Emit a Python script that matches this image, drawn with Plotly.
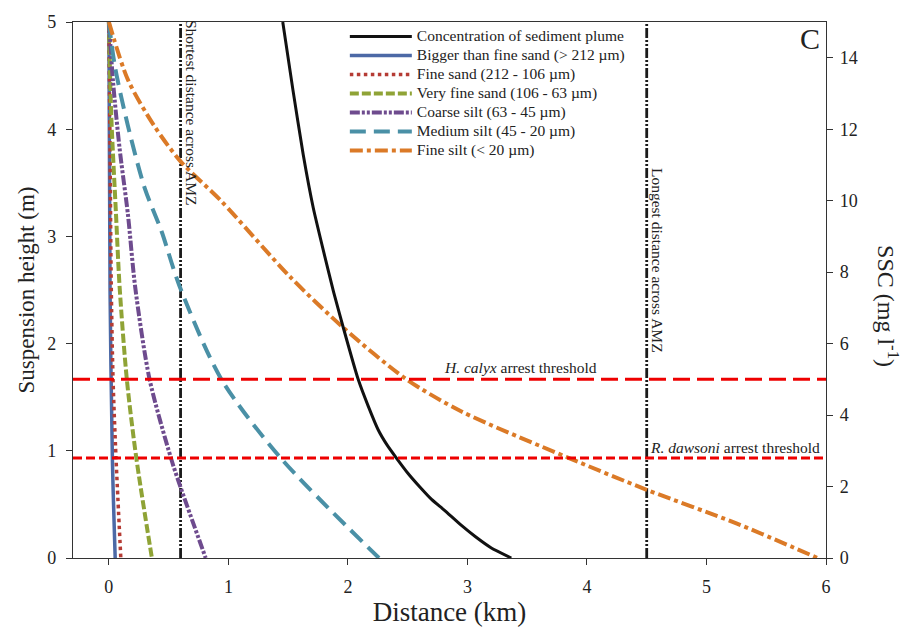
import plotly.graph_objects as go

# ---------------- data ----------------
# Concentration of sediment plume (distance km, SSC mg/l) -> right axis
plume_x = [1.455, 1.54, 1.626, 1.71, 1.80, 1.88, 1.957, 2.086, 2.17, 2.253,
           2.33, 2.403, 2.50, 2.604, 2.70, 2.806, 2.95, 3.065, 3.20, 3.367]
plume_ssc = [15.0, 13.1, 11.29, 9.8, 8.53, 7.45, 6.50, 5.00, 4.25, 3.59,
             3.15, 2.81, 2.38, 1.98, 1.64, 1.34, 0.91, 0.60, 0.28, 0.0]

# Grain-size fractions: distance (km) vs suspension height (m)
coarse_x = [0.0, 0.01, 0.03, 0.053]
coarse_h = [5.0, 2.5, 0.9, 0.0]

finesand_x = [0.0, 0.01, 0.02, 0.035, 0.06, 0.10]
finesand_h = [5.0, 3.8, 2.54, 1.67, 0.93, 0.0]

vfsand_x = [0.0, 0.02, 0.06, 0.09, 0.15, 0.23, 0.36]
vfsand_h = [5.0, 4.13, 3.2, 2.53, 1.67, 0.93, 0.0]

csilt_x = [0.0, 0.036, 0.09, 0.16, 0.22, 0.34, 0.52, 0.60, 0.81]
csilt_h = [5.0, 4.43, 3.82, 3.2, 2.53, 1.67, 0.93, 0.66, 0.0]

msilt_x = [0.0, 0.05, 0.16, 0.30, 0.44, 0.59, 0.94, 1.44, 2.26]
msilt_h = [5.0, 4.59, 4.03, 3.45, 3.05, 2.54, 1.67, 0.93, 0.0]

fsilt_x = [0.0, 0.16, 0.38, 0.60, 0.94, 1.51, 1.97, 2.49, 2.95, 3.84, 4.50, 5.25, 5.93]
fsilt_h = [5.0, 4.46, 4.03, 3.70, 3.33, 2.63, 2.14, 1.667, 1.367, 0.937, 0.636, 0.323, 0.0]

amz_distances = [0.6, 4.5]          # shortest / longest distance across AMZ (km)
amz_labels = ["Shortest distance across AMZ", "Longest distance across AMZ"]
thresholds_ssc = [5.0, 2.8]         # H. calyx, R. dawsoni (mg/l)
threshold_labels = ["<i>H. calyx</i> arrest threshold", "<i>R. dawsoni</i> arrest threshold"]

height_range = [0, 5]
ssc_range = [0, 15]
dist_range = [-0.3, 6]

FONT = "Liberation Serif, Times New Roman, serif"
LEG = '<span style="font-size:15.5px">{}</span>'

fig = go.Figure()

series = [
    ("Bigger than fine sand (> 212 µm)", coarse_x, coarse_h, "#4C69A6", "solid", 3.5),
    ("Fine sand (212 - 106 µm)", finesand_x, finesand_h, "#B53B34", "dot", 3.5),
    ("Very fine sand (106 - 63 µm)", vfsand_x, vfsand_h, "#8FA336", "9px,3px", 4),
    ("Coarse silt (63 - 45 µm)", csilt_x, csilt_h, "#6E4B8E", "10px,2px,3px,2px,3px,2px", 4),
    ("Medium silt (45 - 20 µm)", msilt_x, msilt_h, "#4A90A6", "16px,8px", 4),
    ("Fine silt (< 20 µm)", fsilt_x, fsilt_h, "#DB7A27", "13px,4px,4px,4px", 4),
]

# vertical AMZ lines
for d in amz_distances:
    fig.add_trace(go.Scatter(x=[d, d], y=height_range, mode="lines",
                             line=dict(color="#1a1a1a", width=2.8, dash="10px,2px,2px,2px,2px,2px"),
                             showlegend=False, hoverinfo="skip"))

for i, (name, xs, hs, col, dash, w) in enumerate(series):
    fig.add_trace(go.Scatter(x=xs, y=hs, mode="lines", name=LEG.format(name),
                             line=dict(color=col, width=w, dash=dash, shape="spline", smoothing=0.8),
                             legendrank=10 + i))

fig.add_trace(go.Scatter(x=plume_x, y=plume_ssc, mode="lines",
                         name=LEG.format("Concentration of sediment plume"),
                         line=dict(color="#111111", width=3, shape="spline", smoothing=0.5),
                         yaxis="y2", legendrank=1))

# threshold lines (right axis)
th_dash = ["17px,7px", "9px,4px"]
for t, dsh in zip(thresholds_ssc, th_dash):
    fig.add_trace(go.Scatter(x=dist_range, y=[t, t], mode="lines", yaxis="y2",
                             line=dict(color="#EE0000", width=3, dash=dsh),
                             showlegend=False, hoverinfo="skip"))

ann = []
ann.append(dict(x=amz_distances[0], y=height_range[1], xref="x", yref="y", text=amz_labels[0],
                textangle=90, xanchor="left", yanchor="top", xshift=1, yshift=4,
                showarrow=False, font=dict(family=FONT, size=15.5, color="#222")))
ann.append(dict(x=amz_distances[1], y=3.66, xref="x", yref="y", text=amz_labels[1],
                textangle=90, xanchor="left", yanchor="top", xshift=1,
                showarrow=False, font=dict(family=FONT, size=15.5, color="#222")))
ann.append(dict(x=3.44, y=thresholds_ssc[0], xref="x", yref="y2", text=threshold_labels[0],
                xanchor="center", yanchor="bottom", yshift=1,
                showarrow=False, font=dict(family=FONT, size=15.5, color="#222")))
ann.append(dict(x=amz_distances[1], y=thresholds_ssc[1], xref="x", yref="y2", text=threshold_labels[1],
                xanchor="left", yanchor="bottom", xshift=1, yshift=0,
                showarrow=False, font=dict(family=FONT, size=15.5, color="#222")))
ann.append(dict(x=1, y=1, xref="paper", yref="paper", text="C", xanchor="right", yanchor="top",
                xshift=-4, yshift=2, showarrow=False, font=dict(family=FONT, size=30, color="#222")))
ann.append(dict(x=1, y=0.47, xref="paper", yref="paper", text="SSC (mg l<sup>-1</sup>)",
                textangle=90, xanchor="left", yanchor="middle", xshift=45,
                showarrow=False, font=dict(family=FONT, size=24, color="#222")))

axis_common = dict(showline=True, linecolor="#333", linewidth=1.2, ticks="outside", ticklen=6,
                   tickcolor="#333", showgrid=False, zeroline=False,
                   tickfont=dict(family=FONT, size=18, color="#222"))

fig.update_layout(
    width=905, height=635,
    margin=dict(l=73, r=79, t=15, b=77),
    paper_bgcolor="white", plot_bgcolor="white",
    font=dict(family=FONT, color="#222"),
    xaxis=dict(range=dist_range, tickvals=[0, 1, 2, 3, 4, 5, 6], mirror=True, ticklabelstandoff=6,
               title=dict(text="Distance (km)", font=dict(family=FONT, size=27), standoff=6),
               **axis_common),
    yaxis=dict(range=height_range, tickvals=[0, 1, 2, 3, 4, 5], ticklabelstandoff=6,
               title=dict(text="Suspension height (m)", font=dict(family=FONT, size=23), standoff=6),
               **axis_common),
    yaxis2=dict(range=ssc_range, tickvals=[0, 2, 4, 6, 8, 10, 12, 14], overlaying="y", side="right",
                ticklabelstandoff=3, **axis_common),
    legend=dict(x=0.361, y=1.0, xanchor="left", yanchor="top", bgcolor="rgba(0,0,0,0)",
                itemwidth=62, tracegroupgap=0, traceorder="normal",
                font=dict(family=FONT, size=12, color="#222")),
    annotations=ann,
    showlegend=True,
)

fig.write_html("out.html")
